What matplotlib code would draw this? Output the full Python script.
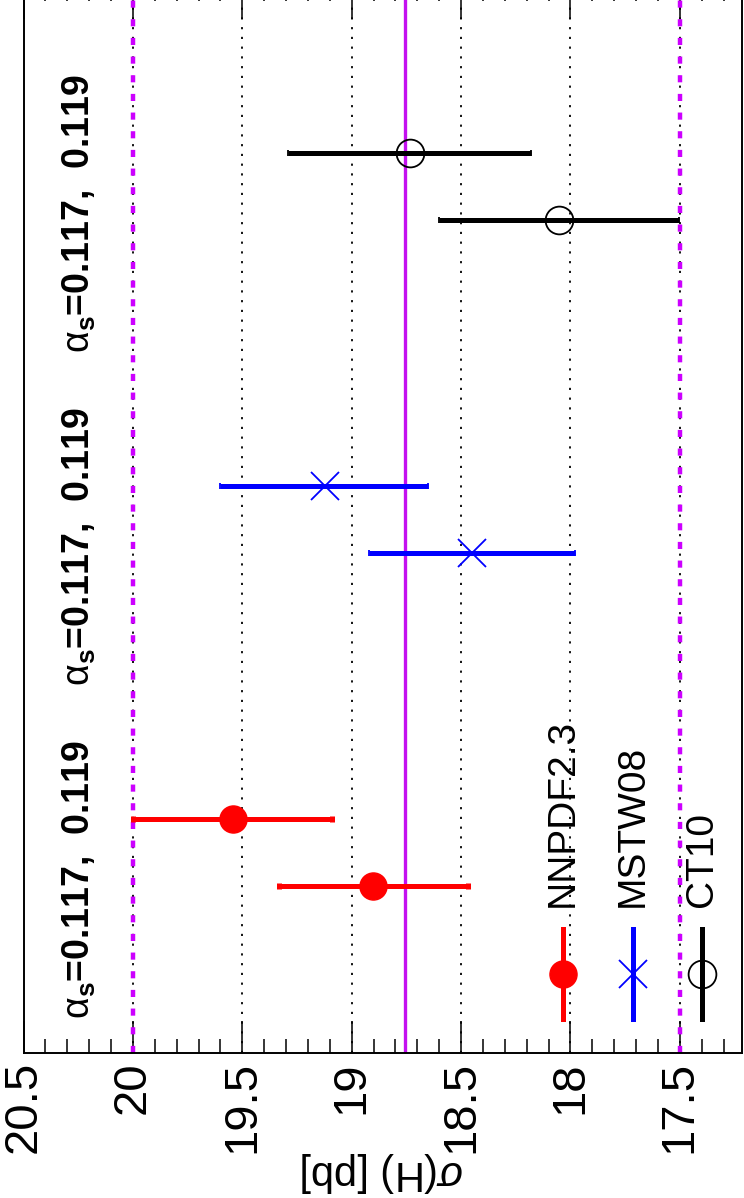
import matplotlib
matplotlib.use('Agg')
import matplotlib.pyplot as plt
from matplotlib.ticker import MultipleLocator

plt.rcParams['font.family'] = ['Liberation Sans', 'DejaVu Sans']
plt.rcParams['mathtext.fontset'] = 'custom'
plt.rcParams['mathtext.rm'] = 'Liberation Sans'
plt.rcParams['mathtext.bf'] = 'Liberation Sans:bold'
plt.rcParams['mathtext.it'] = 'Liberation Sans:italic'

# Higgs cross section for two alpha_s values per PDF set
pdf_sets = ['NNPDF2.3', 'MSTW08', 'CT10']
colors = ['red', 'blue', 'black']
group_pos = [1, 2, 3]

sigma_117 = [18.904, 18.451, 18.052]
lo_117 = [18.470, 17.980, 17.502]
hi_117 = [19.332, 18.920, 18.600]

sigma_119 = [19.543, 19.124, 18.732]
lo_119 = [19.090, 18.650, 18.179]
hi_119 = [19.998, 19.600, 19.289]

sigma_ref = 18.755
band = [20.0, 17.5]
alpha_label = r'$\mathrm{\alpha}_\mathbf{s}$=0.117,  0.119'


def marker_style(i):
    c = colors[i]
    if i == 0:
        return dict(marker='o', ms=19.5, mfc=c, mec=c)
    if i == 1:
        return dict(marker='x', ms=20, mec=c, mew=1.3)
    return dict(marker='o', ms=20, mfc='none', mec=c, mew=1.3)


fig = plt.figure(figsize=(7.44, 11.98), dpi=100)
ax = fig.add_axes([23.5 / 744, 0.1213, (742 - 23.5) / 744, 0.8898])

# grid + reference lines
for t in [20, 19.5, 19, 18.5, 18, 17.5]:
    ax.axvline(t, color='black', lw=1.3, ls=(0, (1.2, 4.2)), zorder=1)
ax.axvline(sigma_ref, color='#c410f0', lw=2.4, zorder=2)
for b in band:
    ax.axvline(b, color='#cc00ff', lw=3.2, ls=(0, (1.6, 2.6)), zorder=2)

for i, name in enumerate(pdf_sets):
    c = colors[i]
    for s, lo, hi, dy in [(sigma_117[i], lo_117[i], hi_117[i], -0.1),
                          (sigma_119[i], lo_119[i], hi_119[i], 0.1)]:
        y = group_pos[i] + dy
        ax.errorbar([s], [y], xerr=[[s - lo], [hi - s]], color=c,
                    elinewidth=3.6, capsize=2.5, capthick=3.6, ls='none',
                    zorder=3, **marker_style(i))
    ax.text(20.245, group_pos[i] - 0.5, alpha_label, rotation=90,
            fontsize=27, fontweight='bold', ha='center', va='bottom')

# legend drawn by hand (the whole figure is rotated)
leg_x = [18.035, 17.715, 17.400]
for i, name in enumerate(pdf_sets):
    c = colors[i]
    ax.plot([leg_x[i], leg_x[i]], [0.50, 0.77], color=c, lw=3.6, zorder=3)
    ax.plot([leg_x[i]], [0.635], ls='none', zorder=4, **marker_style(i))
    ax.text(leg_x[i], 0.836, name, rotation=90, fontsize=28,
            ha='center', va='bottom')

ax.set_xlim(20.5, 17.216)
ax.set_ylim(0.4, 3.6)
ax.xaxis.set_minor_locator(MultipleLocator(0.1))
ax.set_xticks([20.5, 20, 19.5, 19, 18.5, 18, 17.5])
ax.set_xticklabels(['20.5', '20', '19.5', '19', '18.5', '18', '17.5'],
                   rotation=90, fontsize=34)
ax.tick_params(axis='x', which='major', direction='in', length=23, width=1.1,
               top=True, pad=6)
ax.tick_params(axis='x', which='minor', direction='in', length=10, width=1.1,
               top=True)
ax.set_yticks([])
for sp in ax.spines.values():
    sp.set_linewidth(1.4)

ax.set_xlabel(r'$\sigma$(H) [pb]', fontsize=30, rotation=180)
ax.xaxis.set_label_coords(0.5, -0.112)
ax.xaxis.label.set_va('center')

fig.savefig('out.png', dpi=100)
